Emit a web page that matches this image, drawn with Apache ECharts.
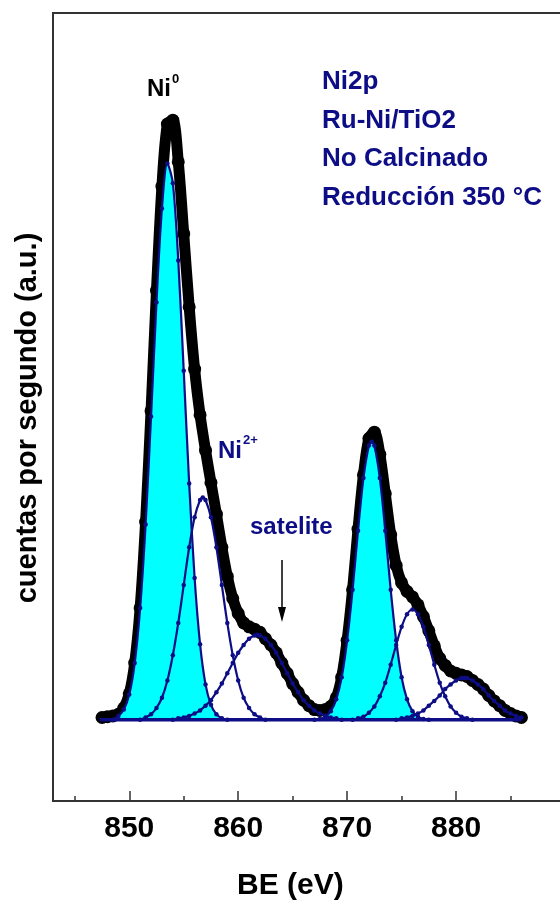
<!DOCTYPE html>
<html>
<head>
<meta charset="utf-8">
<script src="https://cdn.jsdelivr.net/npm/echarts@6/dist/echarts.min.js"></script>
<style>
html,body{margin:0;padding:0;background:#fff;overflow:hidden;}
#chart{width:560px;height:903px;}
</style>
</head>
<body>
<div id="chart"></div>
<script>
// ---- data (binding energy in eV, intensity in arbitrary units) ----
const MAJOR_TICKS = [850, 860, 870, 880];
const MINOR_TICKS = [845, 855, 865, 875, 885];
const BASELINE = 10.3;
const BASELINE_X = [847.3, 886];
const BASELINE_Y = [10.3, 10.3];

// measured spectrum (black dots)
const ENV_X = [847.5,848,848.5,849,849.5,850,850.5,851,851.5,852,852.5,853,853.5,854,854.5,855,855.5,856,856.5,857,857.5,858,858.5,859,859.5,860,860.5,861,861.5,862,862.5,863,863.5,864,864.5,865,865.5,866,866.5,867,867.5,868,868.5,869,869.5,870,870.5,871,871.5,872,872.5,873,873.5,874,874.5,875,875.5,876,876.5,877,877.5,878,878.5,879,879.5,880,880.5,881,881.5,882,882.5,883,883.5,884,884.5,885,885.5,886];
const ENV_Y = [10.6,10.7,10.8,11.0,11.8,13.6,17.5,24.5,35.4,49.5,64.8,78.0,85.9,86.4,81.1,72.0,62.7,54.8,49.0,44.5,40.4,36.4,32.2,28.5,25.7,23.8,22.6,22.1,21.8,21.4,20.6,19.8,18.8,17.5,16.2,14.9,13.8,12.8,12.1,11.6,11.5,11.6,12.0,13.1,15.7,20.4,26.8,34.5,41.4,46.0,46.8,44.0,39.0,33.8,29.9,27.7,26.6,25.9,24.9,23.4,21.6,19.7,18.1,17.2,16.5,16.2,16.0,15.8,15.3,14.8,14.2,13.4,12.7,12.1,11.5,11.1,10.8,10.6];

// Ni0 2p3/2 (cyan)
const NI0_A_X = [848.5,849,849.5,850,850.5,851,851.5,852,852.5,853,853.5,854,854.5,855,855.5,856,856.5,857,857.5,858,858.5,859];
const NI0_A_Y = [10.3,10.8,11.6,13.5,17.5,24.5,35.1,48.8,63.3,75.2,80.9,78.4,68.6,54.6,40.3,28.3,19.9,14.8,12.2,11.0,10.5,10.3];
// Ni2+ 2p3/2
const NI2_A_X = [851,851.5,852,852.5,853,853.5,854,854.5,855,855.5,856,856.5,856.75,857,857.5,858,858.5,859,859.5,860,860.5,861,861.5,862,862.5];
const NI2_A_Y = [10.3,10.6,11.0,11.8,13.1,15.3,18.5,22.6,27.4,32.2,36.0,38.2,38.5,38.2,36.0,32.2,27.4,22.6,18.5,15.3,13.1,11.8,11.0,10.6,10.3];
// satellite 2p3/2
const SAT_A_X = [854,854.5,855,855.5,856,856.5,857,857.5,858,858.5,859,859.5,860,860.5,861,861.5,861.75,862,862.5,863,863.5,864,864.5,865,865.5,866,866.5,867,867.5,868,868.5,869,869.5];
const SAT_A_Y = [10.3,10.5,10.6,10.8,11.1,11.5,12.1,12.8,13.8,14.9,16.2,17.5,18.8,19.8,20.6,21.0,21.1,21.0,20.6,19.8,18.8,17.5,16.2,14.9,13.8,12.8,12.1,11.5,11.1,10.8,10.6,10.5,10.3];
// Ni0 2p1/2 (cyan)
const NI0_B_X = [867,867.5,868,868.5,869,869.5,870,870.5,871,871.5,872,872.25,872.5,873,873.5,874,874.5,875,875.5,876,876.5,877,877.5];
const NI0_B_Y = [10.3,10.4,10.7,11.4,12.9,15.7,20.4,26.8,34.3,41.0,45.1,45.6,45.1,41.0,34.3,26.8,20.4,15.7,12.9,11.4,10.7,10.4,10.3];
// Ni2+ 2p1/2
const NI2_B_X = [870.5,871,871.5,872,872.5,873,873.5,874,874.5,875,875.5,876,876.5,877,877.5,878,878.5,879,879.5,880,880.5,881,881.5];
const NI2_B_Y = [10.3,10.5,10.7,11.2,12.0,13.3,15.0,17.3,19.8,22.1,23.7,24.3,23.7,22.1,19.8,17.3,15.0,13.3,12.0,11.2,10.7,10.5,10.3];
// satellite 2p1/2
const SAT_B_X = [874.5,875,875.5,876,876.5,877,877.5,878,878.5,879,879.5,880,880.5,880.75,881,881.5,882,882.5,883,883.5,884,884.5,885,885.5,886];
const SAT_B_Y = [10.3,10.5,10.6,10.8,11.1,11.5,12.1,12.7,13.4,14.2,14.8,15.3,15.6,15.6,15.6,15.3,14.8,14.2,13.4,12.7,12.1,11.5,11.1,10.8,10.6];

const INFO_LINES = ['Ni2p', 'Ru-Ni/TiO2', 'No Calcinado', 'Reducción 350 °C'];

// ---- chart ----
const FONT = "'Liberation Sans',Arial,sans-serif";
const NAVY = '#0d0d86';
const CYAN = '#00ffff';
const pairs = (xs, ys) => xs.map((x, i) => [x, ys[i]]);

function compSeries(xs, ys, filled) {
  const s = {
    type: 'line', data: pairs(xs, ys), smooth: 0.3,
    symbol: 'circle', symbolSize: 4.5, showAllSymbol: true,
    lineStyle: { color: NAVY, width: 2.2 },
    itemStyle: { color: NAVY },
    z: filled ? 3 : 4, silent: true
  };
  if (filled) s.areaStyle = { color: CYAN, opacity: 1, origin: BASELINE };
  return s;
}

const chart = echarts.init(document.getElementById('chart'), null, { renderer: 'canvas' });
chart.setOption({
  animation: false,
  backgroundColor: '#fff',
  grid: { left: 53, top: 13, width: 512, height: 788, show: true, borderColor: '#333', borderWidth: 2,
          containLabel: false, outerBoundsMode: 'none' },
  xAxis: [{
    type: 'value', min: 843, max: 890, position: 'bottom',
    axisLine: { show: true, lineStyle: { color: '#333', width: 2 } },
    axisTick: { show: true, inside: true, length: 10, customValues: MAJOR_TICKS, lineStyle: { color: '#333', width: 1.5 } },
    axisLabel: { show: true, customValues: MAJOR_TICKS, margin: 13, color: '#000', fontSize: 30, fontWeight: 'bold', fontFamily: FONT },
    splitLine: { show: false }
  }, {
    type: 'value', min: 843, max: 890, position: 'bottom',
    axisLine: { show: false },
    axisTick: { show: true, inside: true, length: 5, customValues: MINOR_TICKS, lineStyle: { color: '#333', width: 1.5 } },
    axisLabel: { show: false },
    splitLine: { show: false }
  }],
  yAxis: {
    type: 'value', min: 0, max: 100,
    axisLine: { show: true, lineStyle: { color: '#333', width: 2 } },
    axisTick: { show: false }, axisLabel: { show: false }, splitLine: { show: false }
  },
  series: [
    {
      type: 'line', data: pairs(ENV_X, ENV_Y), smooth: 0.3,
      symbol: 'circle', symbolSize: 13, showAllSymbol: true,
      lineStyle: { color: '#000', width: 11 }, itemStyle: { color: '#000' }, z: 2, silent: true
    },
    {
      type: 'line', data: pairs(BASELINE_X, BASELINE_Y), symbol: 'none',
      lineStyle: { color: NAVY, width: 3.5 }, z: 5, silent: true
    },
    compSeries(NI0_A_X, NI0_A_Y, true),
    compSeries(NI0_B_X, NI0_B_Y, true),
    compSeries(NI2_A_X, NI2_A_Y, false),
    compSeries(SAT_A_X, SAT_A_Y, false),
    compSeries(NI2_B_X, NI2_B_Y, false),
    compSeries(SAT_B_X, SAT_B_Y, false)
  ],
  graphic: [
    { type: 'text', x: 28, y: 418, rotation: Math.PI / 2,
      style: { text: 'cuentas por segundo (a.u.)', fill: '#000', font: 'bold 29px ' + FONT, align: 'center', verticalAlign: 'middle' } },
    { type: 'text', left: 147, top: 77, style: { text: 'Ni', fill: '#000', font: 'bold 24px ' + FONT } },
    { type: 'text', left: 172, top: 73, style: { text: '0', fill: '#000', font: 'bold 13px ' + FONT } },
    { type: 'text', left: 218, top: 439, style: { text: 'Ni', fill: NAVY, font: 'bold 24px ' + FONT } },
    { type: 'text', left: 243, top: 434, style: { text: '2+', fill: NAVY, font: 'bold 13px ' + FONT } },
    { type: 'text', left: 250, top: 515, style: { text: 'satelite', fill: NAVY, font: 'bold 24px ' + FONT } },
    { type: 'text', left: 322, top: 63, style: { text: INFO_LINES.join('\n'), fill: NAVY, font: 'bold 26px ' + FONT, lineHeight: 38.5 } },
    { type: 'text', left: 237, top: 871, style: { text: 'BE (eV)', fill: '#000', font: 'bold 30px ' + FONT } },
    { type: 'line', shape: { x1: 282, y1: 560, x2: 282, y2: 610 }, style: { stroke: '#000', lineWidth: 1.5 } },
    { type: 'polygon', shape: { points: [[278, 607], [286, 607], [282, 622]] }, style: { fill: '#000' } }
  ]
});
</script>
</body>
</html>
